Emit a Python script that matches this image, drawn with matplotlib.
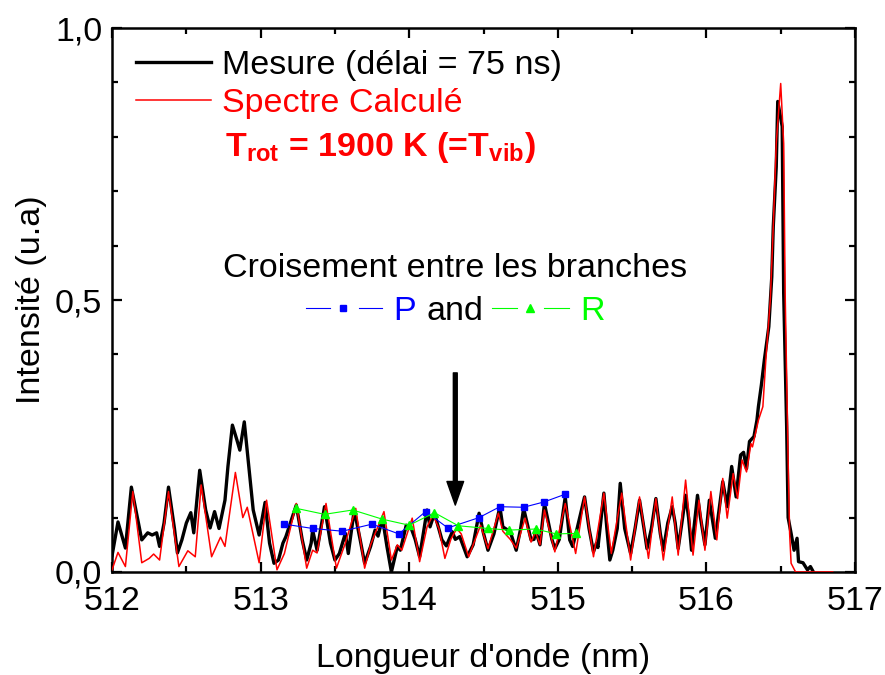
import matplotlib
matplotlib.use('Agg')
import matplotlib.pyplot as plt
from matplotlib.ticker import MultipleLocator, FuncFormatter

plt.rcParams['font.family'] = ['Liberation Sans', 'DejaVu Sans']
plt.rcParams['mathtext.fontset'] = 'custom'
plt.rcParams['mathtext.rm'] = 'Liberation Sans'
plt.rcParams['mathtext.bf'] = 'Liberation Sans:bold'

mesure_x = [512.00, 512.04, 512.09, 512.13, 512.17, 512.20, 512.24, 512.27, 512.30, 512.32,
            512.35, 512.38, 512.42, 512.44, 512.47, 512.50, 512.53, 512.55, 512.59, 512.63,
            512.66, 512.69, 512.72, 512.76, 512.78, 512.81, 512.84, 512.86, 512.89, 512.92,
            512.95, 512.99, 513.03, 513.06, 513.09, 513.12, 513.15, 513.17, 513.24, 513.28,
            513.31, 513.34, 513.35, 513.38, 513.43, 513.47, 513.50, 513.53, 513.57, 513.59,
            513.63, 513.67, 513.70, 513.74, 513.77, 513.79, 513.82, 513.85, 513.88, 513.92,
            513.94, 513.98, 514.01, 514.04, 514.07, 514.12, 514.14, 514.17, 514.22, 514.25,
            514.29, 514.31, 514.34, 514.39, 514.43, 514.47, 514.50, 514.53, 514.57, 514.61,
            514.63, 514.68, 514.72, 514.75, 514.77, 514.82, 514.84, 514.85, 514.88, 514.91,
            514.96, 514.98, 515.01, 515.05, 515.08, 515.10, 515.13, 515.18, 515.21, 515.24,
            515.26, 515.27, 515.31, 515.33, 515.35, 515.37, 515.40, 515.42, 515.45, 515.49,
            515.52, 515.55, 515.58, 515.60, 515.63, 515.66, 515.69, 515.71, 515.74, 515.77,
            515.79, 515.81, 515.84, 515.86, 515.88, 515.90, 515.92, 515.94, 515.96, 515.99,
            516.02, 516.06, 516.11, 516.14, 516.17, 516.20, 516.23, 516.25, 516.27, 516.29,
            516.32, 516.34, 516.35, 516.37, 516.39, 516.42, 516.44, 516.45, 516.47, 516.48,
            516.51, 516.52, 516.54, 516.55, 516.57, 516.59, 516.61, 516.62, 516.65, 516.68,
            516.70, 516.72]
mesure_y = [0.030, 0.092, 0.044, 0.156, 0.100, 0.059, 0.072, 0.068, 0.072, 0.047,
            0.090, 0.156, 0.080, 0.035, 0.059, 0.090, 0.109, 0.072, 0.187, 0.114,
            0.081, 0.111, 0.080, 0.132, 0.194, 0.270, 0.243, 0.224, 0.276, 0.194,
            0.114, 0.068, 0.128, 0.053, 0.016, 0.022, 0.053, 0.065, 0.123, 0.059,
            0.022, 0.053, 0.077, 0.040, 0.120, 0.053, 0.022, 0.034, 0.071, 0.034,
            0.114, 0.059, 0.016, 0.047, 0.077, 0.066, 0.099, 0.047, 0.000, 0.047,
            0.040, 0.086, 0.083, 0.060, 0.028, 0.114, 0.083, 0.108, 0.059, 0.048,
            0.074, 0.060, 0.065, 0.028, 0.050, 0.108, 0.071, 0.040, 0.070, 0.120,
            0.083, 0.074, 0.040, 0.080, 0.117, 0.059, 0.060, 0.077, 0.050, 0.126,
            0.060, 0.043, 0.060, 0.138, 0.059, 0.047, 0.080, 0.138, 0.080, 0.037,
            0.053, 0.045, 0.145, 0.080, 0.022, 0.040, 0.080, 0.163, 0.080, 0.034,
            0.080, 0.132, 0.080, 0.043, 0.080, 0.135, 0.070, 0.040, 0.090, 0.120,
            0.090, 0.043, 0.100, 0.141, 0.100, 0.040, 0.090, 0.141, 0.100, 0.050,
            0.132, 0.062, 0.166, 0.120, 0.194, 0.138, 0.215, 0.220, 0.190, 0.240,
            0.249, 0.279, 0.304, 0.344, 0.390, 0.451, 0.543, 0.635, 0.745, 0.865,
            0.819, 0.513, 0.267, 0.100, 0.071, 0.040, 0.062, 0.019, 0.017, 0.004,
            0.010, 0.000]

# calculated spectrum
calc_x = [512.00, 512.04, 512.09, 512.14, 512.20, 512.25, 512.28, 512.32, 512.38, 512.45,
          512.51, 512.56, 512.60, 512.67, 512.73, 512.76, 512.83, 512.88, 512.91, 512.99,
          513.04, 513.11, 513.16, 513.24, 513.31, 513.35, 513.38, 513.44, 513.51, 513.57,
          513.64, 513.70, 513.74, 513.83, 513.88, 513.92, 513.95, 514.02, 514.07, 514.12,
          514.16, 514.20, 514.24, 514.28, 514.32, 514.35, 514.40, 514.48, 514.53, 514.60,
          514.63, 514.68, 514.72, 514.78, 514.82, 514.85, 514.88, 514.91, 514.98, 515.05,
          515.12, 515.18, 515.24, 515.31, 515.36, 515.43, 515.49, 515.55, 515.61, 515.66,
          515.71, 515.77, 515.81, 515.86, 515.91, 515.95, 515.99, 516.03, 516.07, 516.11,
          516.14, 516.18, 516.21, 516.24, 516.27, 516.30, 516.31, 516.35, 516.38, 516.40,
          516.43, 516.45, 516.47, 516.50, 516.52, 516.53, 516.55, 516.56, 516.57, 516.60,
          516.85]
calc_y = [0.004, 0.036, 0.010, 0.148, 0.017, 0.025, 0.033, 0.022, 0.148, 0.010,
          0.039, 0.028, 0.160, 0.028, 0.064, 0.047, 0.183, 0.100, 0.119, 0.017,
          0.132, 0.004, 0.034, 0.126, 0.007, 0.040, 0.035, 0.126, 0.007, 0.053,
          0.117, 0.007, 0.050, 0.111, 0.022, 0.050, 0.040, 0.099, 0.019, 0.083,
          0.105, 0.080, 0.025, 0.060, 0.080, 0.070, 0.028, 0.086, 0.043, 0.108,
          0.075, 0.060, 0.044, 0.099, 0.055, 0.074, 0.050, 0.114, 0.037, 0.126,
          0.034, 0.138, 0.028, 0.145, 0.034, 0.145, 0.022, 0.138, 0.025, 0.135,
          0.022, 0.138, 0.031, 0.169, 0.031, 0.132, 0.040, 0.148, 0.059, 0.172,
          0.099, 0.181, 0.135, 0.206, 0.184, 0.236, 0.230, 0.279, 0.304, 0.390,
          0.500, 0.635, 0.788, 0.898, 0.788, 0.512, 0.206, 0.071, 0.016, 0.000,
          0.000]

# P and R branch line positions
p_x = [513.16, 513.35, 513.55, 513.75, 513.93, 514.11, 514.26, 514.47, 514.61, 514.77, 514.91, 515.05]
p_y = [0.088, 0.080, 0.075, 0.088, 0.070, 0.111, 0.081, 0.100, 0.120, 0.119, 0.129, 0.143]
r_x = [513.24, 513.43, 513.62, 513.82, 514.00, 514.17, 514.33, 514.53, 514.67, 514.85, 514.99, 515.12]
r_y = [0.117, 0.106, 0.114, 0.097, 0.086, 0.109, 0.085, 0.080, 0.077, 0.079, 0.070, 0.071]

arrow_x = 514.31
arrow_top = 0.366
arrow_tip = 0.123

FS = 24.5

fig = plt.figure(figsize=(8.85, 6.75), dpi=100)
ax = fig.add_axes([0.1266, 0.1526, 0.8395, 0.8059])

ax.plot(mesure_x, mesure_y, color='black', lw=2.4, label='Mesure (délai = 75 ns)', zorder=2)
ax.plot(calc_x, calc_y, color='red', lw=1.1, label='Spectre Calculé', zorder=3)
ax.plot(p_x, p_y, color='blue', lw=0.8, marker='s', ms=4.5, zorder=4)
ax.plot(r_x, r_y, color='#00ff00', lw=0.8, marker='^', ms=5.5, zorder=4)

ax.annotate('', xy=(arrow_x, arrow_tip), xytext=(arrow_x, arrow_top),
            arrowprops=dict(facecolor='black', edgecolor='black', width=2.8,
                            headwidth=12, headlength=17, shrink=0))

ax.set_xlim(512, 517)
ax.set_ylim(0, 1.0)
ax.xaxis.set_major_locator(MultipleLocator(1))
ax.xaxis.set_minor_locator(MultipleLocator(0.5))
ax.yaxis.set_major_locator(MultipleLocator(0.5))
ax.yaxis.set_minor_locator(MultipleLocator(0.1))
ax.yaxis.set_major_formatter(FuncFormatter(lambda v, p: f'{v:.1f}'.replace('.', ',')))
ax.tick_params(which='both', direction='in', top=True, right=True, width=1.6, labelsize=FS)
ax.tick_params(which='major', length=7)
ax.tick_params(which='minor', length=4)
ax.tick_params(axis='x', pad=10)
ax.tick_params(axis='y', pad=7)
for s in ax.spines.values():
    s.set_linewidth(1.8)

ax.set_xlabel("Longueur d'onde (nm)", fontsize=FS, labelpad=19)
ax.set_ylabel('Intensité (u.a)', fontsize=FS, labelpad=6)

leg = ax.legend(loc='upper left', bbox_to_anchor=(0.032, 0.96), frameon=False,
                fontsize=FS, handlelength=2.2, handletextpad=0.32, labelspacing=0.2,
                borderpad=0, borderaxespad=0, labelcolor=['black', 'red'])
leg.get_lines()[0].set_linewidth(2.4)
leg.get_lines()[1].set_linewidth(1.1)

ax.text(0.152, 0.764, 'T$_{\\mathbf{rot}}$ = 1900 K (=T$_{\\mathbf{vib}}$)', transform=ax.transAxes,
        color='red', fontsize=FS, fontweight='bold', va='baseline', ha='left')

ax.text(0.4617, 0.5417, 'Croisement entre les branches', transform=ax.transAxes,
        fontsize=FS, ha='center', va='baseline')

# little key for the P and R branches
ly = 0.486
ax.plot([0.261, 0.293], [ly, ly], color='blue', lw=0.8, transform=ax.transAxes)
ax.plot([0.311], [ly], color='blue', marker='s', ms=4.5, transform=ax.transAxes)
ax.plot([0.332, 0.364], [ly, ly], color='blue', lw=0.8, transform=ax.transAxes)
ax.text(0.378, 0.463, 'P', color='blue', fontsize=FS, transform=ax.transAxes, va='baseline')
ax.text(0.423, 0.463, 'and', color='black', fontsize=FS, transform=ax.transAxes, va='baseline')
ax.plot([0.512, 0.545], [ly, ly], color='#00ff00', lw=0.8, transform=ax.transAxes)
ax.plot([0.563], [ly], color='#00ff00', marker='^', ms=5.5, transform=ax.transAxes)
ax.plot([0.582, 0.615], [ly, ly], color='#00ff00', lw=0.8, transform=ax.transAxes)
ax.text(0.630, 0.463, 'R', color='#00ff00', fontsize=FS, transform=ax.transAxes, va='baseline')

fig.savefig('out.png', dpi=100)
